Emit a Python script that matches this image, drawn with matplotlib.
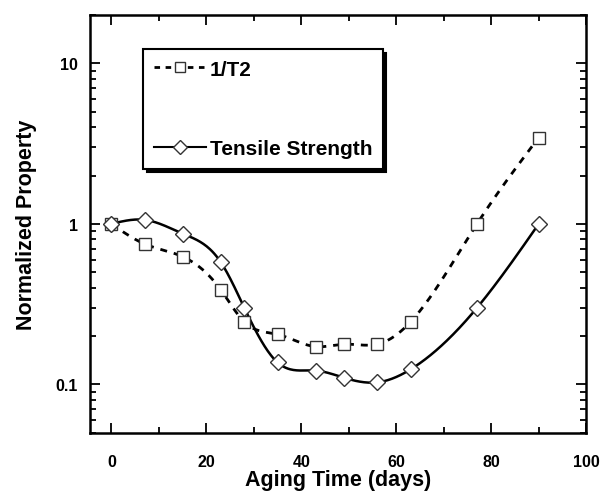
import numpy as np
import matplotlib
matplotlib.use("Agg")
import matplotlib.pyplot as plt
from matplotlib.ticker import FixedLocator, LogLocator, NullFormatter, FixedFormatter

plt.rcParams['font.family'] = ['Liberation Sans', 'DejaVu Sans']
plt.rcParams['font.weight'] = 'bold'

days = [0, 7, 15, 23, 28, 35, 43, 49, 56, 63, 77, 90]
inv_t2 = [1.0, 0.75, 0.625, 0.39, 0.245, 0.205, 0.172, 0.178, 0.178, 0.245, 1.0, 3.45]
tensile = [1.0, 1.06, 0.87, 0.58, 0.30, 0.137, 0.122, 0.11, 0.103, 0.124, 0.30, 1.0]
x_ticks = [0, 20, 40, 60, 80, 100]
y_ticks = [0.1, 1, 10]
y_tick_labels = ['0.1', '1', '10']


def natural_spline(x, y, xs):
    x = np.asarray(x, float); y = np.asarray(y, float)
    n = len(x)
    h = np.diff(x)
    A = np.zeros((n, n)); b = np.zeros(n)
    A[0, 0] = 1; A[-1, -1] = 1
    for i in range(1, n - 1):
        A[i, i - 1] = h[i - 1]
        A[i, i] = 2 * (h[i - 1] + h[i])
        A[i, i + 1] = h[i]
        b[i] = 3 * ((y[i + 1] - y[i]) / h[i] - (y[i] - y[i - 1]) / h[i - 1])
    c = np.linalg.solve(A, b)
    out = np.empty_like(xs)
    for k, t in enumerate(xs):
        i = min(max(np.searchsorted(x, t) - 1, 0), n - 2)
        dx = t - x[i]
        bi = (y[i + 1] - y[i]) / h[i] - h[i] * (2 * c[i] + c[i + 1]) / 3
        di = (c[i + 1] - c[i]) / (3 * h[i])
        out[k] = y[i] + bi * dx + c[i] * dx ** 2 + di * dx ** 3
    return out


fig = plt.figure(figsize=(6, 5.02), dpi=100)
ax = fig.add_axes([0.15, 0.136, 0.827, 0.832])

xs = np.linspace(days[0], days[-1], 400)
s1 = 10 ** natural_spline(days, np.log10(inv_t2), xs)
s2 = 10 ** natural_spline(days, np.log10(tensile), xs)

ax.plot(xs, s1, color='black', lw=2.0, dashes=(2.5, 2.5))
ax.plot(xs, s2, color='black', lw=1.8)
ax.plot(days, inv_t2, ls='none', marker='s', ms=9, mfc='white', mec='#333333', mew=1.0)
ax.plot(days, tensile, ls='none', marker='D', ms=8, mfc='white', mec='#333333', mew=1.0)

# legend handles
h1, = ax.plot([], [], color='black', lw=2.0, dashes=(2.0, 2.0), marker='s', ms=7,
              mfc='white', mec='#333333', mew=1.0, label='1/T2')
h2, = ax.plot([], [], color='black', lw=1.5, marker='D', ms=7,
              mfc='white', mec='#333333', mew=1.0, label='Tensile Strength')

ax.set_yscale('log')
ax.set_xlim(-4.5, 100)
ax.set_ylim(0.05, 20)

ax.xaxis.set_major_locator(FixedLocator(x_ticks))
ax.xaxis.set_minor_locator(FixedLocator([10, 30, 50, 70, 90]))
ax.yaxis.set_major_locator(FixedLocator(y_ticks))
ax.yaxis.set_major_formatter(FixedFormatter(y_tick_labels))
ax.yaxis.set_minor_locator(LogLocator(base=10, subs=np.arange(2, 10)))
ax.yaxis.set_minor_formatter(NullFormatter())

ax.tick_params(which='both', direction='in', top=True, right=True, width=1.3)
ax.tick_params(which='major', length=7, labelsize=11.5)
ax.tick_params(axis='x', which='major', pad=15)
ax.tick_params(axis='y', which='major', pad=9)
ax.tick_params(which='minor', length=4)
for lab in ax.get_xticklabels() + ax.get_yticklabels():
    lab.set_fontweight('bold')
for sp in ax.spines.values():
    sp.set_linewidth(1.8)

ax.set_xlabel('Aging Time (days)', fontsize=15.5, fontweight='bold', labelpad=0)
ax.set_ylabel('Normalized Property', fontsize=15.5, fontweight='bold', labelpad=13)

leg = ax.legend(handles=[h1, h2], loc='upper left', bbox_to_anchor=(0.107, 0.918),
                borderaxespad=0, fancybox=False, frameon=True,
                shadow={'color': 'black', 'alpha': 1.0, 'ox': 2.5, 'oy': -2.5},
                handlelength=2.5, handletextpad=0.2, labelspacing=2.9,
                borderpad=0.5, prop={'size': 15, 'weight': 'bold'})
leg.get_frame().set_edgecolor('black')
leg.get_frame().set_linewidth(1.5)

fig.savefig('out.png', dpi=100)
